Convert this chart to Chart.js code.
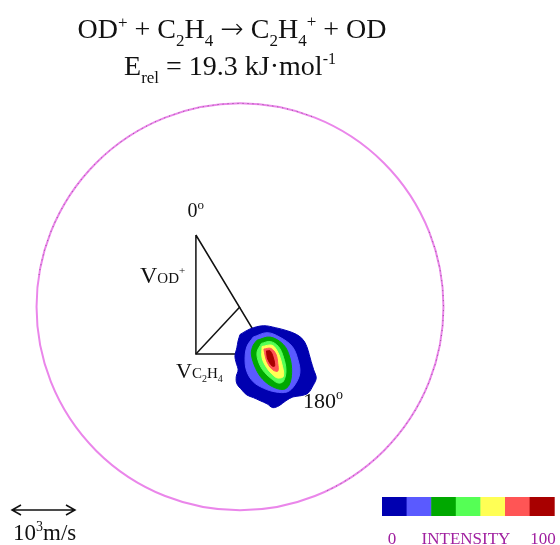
<!DOCTYPE html>
<html>
<head>
<meta charset="utf-8">
<script src="https://cdn.jsdelivr.net/npm/chart.js@4.4.1/dist/chart.umd.min.js"></script>
<style>
  html, body { margin: 0; padding: 0; background: #ffffff; }
  #wrap { width: 560px; height: 545px; position: relative; }
</style>
</head>
<body>
<div id="wrap"><canvas id="c"></canvas></div>
<script>
// ---- Data (velocity space, units of 10^3 m/s, origin at centre of mass) ----
const labOrigin = [-0.70, -0.75];
const tipOD = [-0.70, 1.14];
const tipC2H4 = [0.44, -0.75];
const centerOfMass = [0.00, 0.00];
const maxSpeed = 3.23;          // radius of the limiting circle
const scaleBarLength = 1.0;     // 10^3 m/s

// Intensity contour outlines (outermost first)
const contourLevel1 = [[0.00,-0.44],[0.16,-0.35],[0.37,-0.30],[0.56,-0.33],[0.75,-0.38],[0.90,-0.44],[1.00,-0.52],[1.06,-0.63],[1.10,-0.76],[1.13,-0.87],[1.17,-1.00],[1.21,-1.13],[1.16,-1.25],[1.08,-1.37],[0.97,-1.41],[0.84,-1.43],[0.73,-1.49],[0.62,-1.57],[0.52,-1.60],[0.43,-1.54],[0.32,-1.49],[0.21,-1.44],[0.11,-1.40],[0.03,-1.32],[-0.05,-1.22],[-0.06,-1.11],[-0.03,-1.00],[-0.06,-0.89],[-0.08,-0.78],[-0.05,-0.65],[-0.03,-0.54],[0.00,-0.44]];
const contourLevel2 = [[0.21,-0.48],[0.43,-0.41],[0.63,-0.48],[0.83,-0.63],[0.92,-0.84],[0.95,-1.05],[0.87,-1.24],[0.75,-1.35],[0.56,-1.35],[0.37,-1.29],[0.21,-1.19],[0.11,-1.03],[0.08,-0.84],[0.11,-0.63],[0.21,-0.48]];
const contourLevel3 = [[0.27,-0.53],[0.48,-0.48],[0.69,-0.60],[0.79,-0.80],[0.82,-1.04],[0.78,-1.24],[0.69,-1.31],[0.52,-1.27],[0.36,-1.15],[0.25,-0.98],[0.18,-0.75],[0.21,-0.61],[0.27,-0.53]];
const contourLevel4 = [[0.34,-0.58],[0.48,-0.55],[0.61,-0.63],[0.69,-0.80],[0.73,-1.01],[0.69,-1.18],[0.61,-1.21],[0.51,-1.15],[0.39,-1.04],[0.30,-0.89],[0.27,-0.72],[0.34,-0.58]];
const contourLevel5 = [[0.35,-0.63],[0.51,-0.61],[0.60,-0.72],[0.66,-0.89],[0.69,-1.10],[0.60,-1.13],[0.51,-1.07],[0.42,-0.96],[0.35,-0.81],[0.35,-0.63]];
const contourLevel6 = [[0.38,-0.67],[0.49,-0.66],[0.57,-0.75],[0.60,-0.90],[0.60,-1.02],[0.52,-1.00],[0.44,-0.90],[0.40,-0.78],[0.38,-0.67]];
const contourLevel7 = [[0.42,-0.70],[0.48,-0.70],[0.53,-0.81],[0.55,-0.94],[0.51,-0.94],[0.44,-0.83],[0.42,-0.70]];

const intensityColors = ['#0000b0', '#5a5aff', '#00a800', '#55ff55', '#ffff55', '#ff5555', '#a80000'];
const intensityLabels = ['0', 'INTENSITY', '100'];

// ---- Chart ----
const toXY = arr => arr.map(p => ({x: p[0], y: p[1]}));
const contours = [contourLevel1, contourLevel2, contourLevel3, contourLevel4, contourLevel5, contourLevel6, contourLevel7];

const datasets = [];
datasets.push({
  data: toXY([tipOD, labOrigin, tipC2H4, tipOD]),
  showLine: true, borderColor: '#111111', borderWidth: 1.5, pointRadius: 0, fill: false, order: 20, tension: 0
});
datasets.push({
  data: toXY([labOrigin, centerOfMass]),
  showLine: true, borderColor: '#111111', borderWidth: 1.5, pointRadius: 0, fill: false, order: 19, tension: 0
});
contours.forEach((c, i) => {
  datasets.push({
    data: toXY(c),
    showLine: true,
    borderColor: intensityColors[i],
    backgroundColor: intensityColors[i],
    borderWidth: 1,
    pointRadius: 0,
    fill: 'shape',
    tension: 0.35,
    order: 10 - i
  });
});

const SERIF = '"Liberation Serif", "Times New Roman", serif';
function drawRich(ctx, segs, x, y, align) {
  let w = 0;
  const fontOf = s => (s[4] ? s[4] + ' ' : '') + s[1] + 'px ' + (s[3] || SERIF);
  segs.forEach(s => { ctx.font = fontOf(s); w += ctx.measureText(s[0]).width; });
  let cx = align === 'center' ? x - w / 2 : (align === 'right' ? x - w : x);
  ctx.textAlign = 'left';
  ctx.textBaseline = 'alphabetic';
  segs.forEach(s => {
    ctx.font = fontOf(s);
    ctx.fillText(s[0], cx, y + (s[2] || 0));
    cx += ctx.measureText(s[0]).width;
  });
}

const diagramLabels = [
  {pos: [-0.833, 1.429], segs: [['0', 20, 0], ['o', 13, -8]]},
  {pos: [-1.587, 0.381], segs: [['V', 24, 0], ['OD', 15, 0], ['+', 11, -9]]},
  {pos: [-1.016, -1.127], segs: [['V', 22, 0], ['C', 15, 0], ['2', 10, 4], ['H', 15, 0], ['4', 10, 4]]},
  {pos: [1.00, -1.603], segs: [['180', 22, 0], ['o', 14, -9]]}
];

const decor = {
  id: 'decor',
  beforeDatasetsDraw(chart) {
    const {ctx, scales: {x, y}} = chart;
    const cx = x.getPixelForValue(centerOfMass[0]);
    const cy = y.getPixelForValue(centerOfMass[1]);
    const r = x.getPixelForValue(centerOfMass[0] + maxSpeed) - cx;
    ctx.save();
    ctx.strokeStyle = '#ea86ea';
    ctx.lineWidth = 2;
    ctx.beginPath();
    ctx.arc(cx, cy, r, 0, Math.PI * 2);
    ctx.stroke();
    ctx.strokeStyle = 'rgba(70,30,70,0.55)';
    ctx.lineWidth = 1;
    ctx.setLineDash([1, 4]);
    ctx.beginPath(); ctx.arc(cx, cy, r, Math.PI * 1.05, Math.PI * 1.62); ctx.stroke();
    ctx.beginPath(); ctx.arc(cx, cy, r, -Math.PI * 0.12, Math.PI * 0.36); ctx.stroke();
    ctx.restore();
  },
  afterDatasetsDraw(chart) {
    const {ctx, scales: {x, y}} = chart;
    ctx.save();
    ctx.fillStyle = '#111111';
    const ARROWF = '"DejaVu Sans", sans-serif';
    drawRich(ctx, [['OD', 28, 0], ['+', 17, -10], [' + C', 28, 0], ['2', 17, 8], ['H', 28, 0], ['4', 17, 8],
                   [' ', 28, 0], ['\u2192', 28, 0, ARROWF, '200'], [' C', 28, 0], ['2', 17, 8], ['H', 28, 0], ['4', 17, 8], ['+', 17, -11], [' + OD', 28, 0]], 232, 38, 'center');
    drawRich(ctx, [['E', 28, 0], ['rel', 17, 8], [' = 19.3 kJ\u00b7mol', 28, 0], ['-1', 16, -11]], 230, 75, 'center');
    diagramLabels.forEach(l => {
      drawRich(ctx, l.segs, x.getPixelForValue(l.pos[0]), y.getPixelForValue(l.pos[1]), 'left');
    });
    const sx0 = 12, sy = 510;
    const sx1 = x.getPixelForValue(x.getValueForPixel(sx0) + scaleBarLength);
    ctx.strokeStyle = '#111111';
    ctx.lineWidth = 1.5;
    ctx.beginPath();
    ctx.moveTo(sx0, sy); ctx.lineTo(sx1, sy);
    ctx.moveTo(sx0 + 9, sy - 5); ctx.lineTo(sx0, sy); ctx.lineTo(sx0 + 9, sy + 5);
    ctx.moveTo(sx1 - 9, sy - 5); ctx.lineTo(sx1, sy); ctx.lineTo(sx1 - 9, sy + 5);
    ctx.stroke();
    drawRich(ctx, [['10', 23, 0], ['3', 14, -9], ['m/s', 23, 0]], 13, 540, 'left');
    const bx = 382, by = 497, bw = 24.6, bh = 19;
    intensityColors.forEach((c, i) => {
      ctx.fillStyle = c;
      ctx.fillRect(bx + i * bw, by, bw + 0.5, bh);
    });
    ctx.fillStyle = '#a020a0';
    drawRich(ctx, [[intensityLabels[0], 17, 0]], 392, 544, 'center');
    drawRich(ctx, [[intensityLabels[1], 17, 0]], 466, 544, 'center');
    drawRich(ctx, [[intensityLabels[2], 17, 0]], 543, 544, 'center');
    ctx.restore();
  }
};

new Chart(document.getElementById('c'), {
  type: 'scatter',
  data: { datasets },
  options: {
    responsive: true,
    maintainAspectRatio: false,
    animation: false,
    layout: { padding: 0 },
    plugins: { legend: { display: false }, tooltip: { enabled: false }, title: { display: false } },
    scales: {
      x: { type: 'linear', min: -3.81, max: 5.08, display: false },
      y: { type: 'linear', min: -3.78, max: 4.87, display: false }
    }
  },
  plugins: [decor]
});
</script>
</body>
</html>
